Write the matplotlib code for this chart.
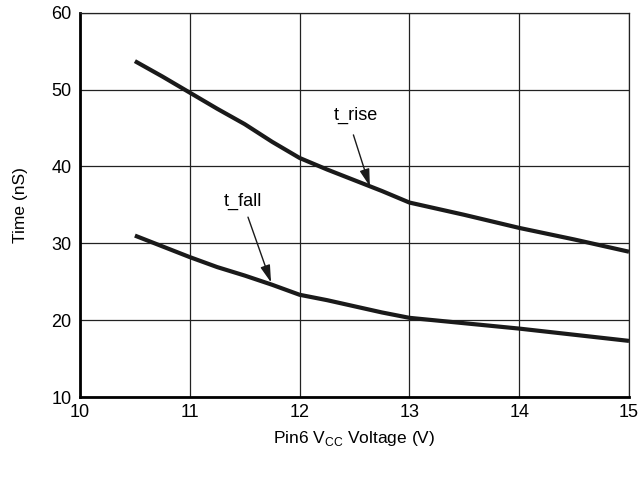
import matplotlib
matplotlib.use("Agg")
import matplotlib.pyplot as plt

# Data
vcc = [10.5, 10.75, 11.0, 11.25, 11.5, 11.75, 12.0, 12.25, 12.5, 12.75, 13.0,
       13.5, 14.0, 14.5, 15.0]
t_rise = [53.7, 51.7, 49.6, 47.5, 45.5, 43.2, 41.1, 39.6, 38.2, 36.8, 35.3,
          33.7, 32.0, 30.5, 28.9]
t_fall = [31.0, 29.6, 28.2, 26.9, 25.8, 24.6, 23.3, 22.6, 21.8, 21.0, 20.3,
          19.6, 18.9, 18.1, 17.3]

x_ticks = [10, 11, 12, 13, 14, 15]
y_ticks = [10, 20, 30, 40, 50, 60]

fam = ['Liberation Sans Narrow', 'Liberation Sans', 'DejaVu Sans']
plt.rcParams['font.family'] = fam
plt.rcParams['mathtext.fontset'] = 'custom'
plt.rcParams['mathtext.rm'] = 'Liberation Sans'

fig = plt.figure(figsize=(6.39, 4.8), dpi=100)
ax = fig.add_axes([80/639, 1-397/480, (629-80)/639, (397-12.7)/480])

ax.plot(vcc, t_rise, color='#1a1a1a', lw=3.0, solid_capstyle='butt',
        solid_joinstyle='round', zorder=3)
ax.plot(vcc, t_fall, color='#1a1a1a', lw=3.0, solid_capstyle='butt',
        solid_joinstyle='round', zorder=3)

ax.set_xlim(10, 15)
ax.set_ylim(10, 60)
ax.set_xticks(x_ticks)
ax.set_yticks(y_ticks)
ax.grid(True, color='#222222', lw=0.9)
ax.tick_params(length=0, labelsize=13)
ax.tick_params(axis='y', pad=6)
ax.tick_params(axis='x', pad=5)

for s in ['left', 'bottom']:
    ax.spines[s].set_linewidth(2.0)
for s in ['top', 'right']:
    ax.spines[s].set_linewidth(0.9)
    ax.spines[s].set_color('#222222')

ax.set_ylabel('Time (nS)', fontsize=12.5, labelpad=17)
ax.set_xlabel(r'Pin6 V$_{\mathrm{CC}}$ Voltage (V)', fontsize=12.5, labelpad=6)

arrow = dict(arrowstyle='-|>,head_length=0.7,head_width=0.2', color='#1a1a1a',
             lw=1.0, shrinkA=0, shrinkB=0, mutation_scale=15)
ax.annotate('', xy=(12.64, 37.4), xytext=(12.49, 44.1), arrowprops=arrow, zorder=4)
ax.annotate('', xy=(11.74, 24.9), xytext=(11.53, 33.4), arrowprops=arrow, zorder=4)
ax.text(12.51, 46.7, 't_rise', fontsize=13, ha='center', va='center')
ax.text(11.48, 35.4, 't_fall', fontsize=13, ha='center', va='center')

fig.savefig('out.png', dpi=100)
